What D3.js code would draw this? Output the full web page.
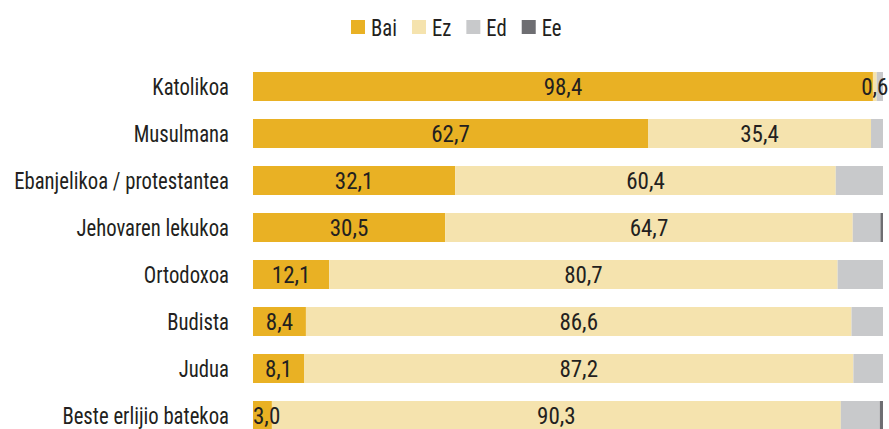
<!DOCTYPE html>
<html>
<head>
<meta charset="utf-8">
<script src="https://cdn.jsdelivr.net/npm/d3@7"></script>
<style>
  html, body { margin: 0; padding: 0; background: #fff; }
  svg { display: block; }
  text { font-family: "Liberation Sans Narrow", "Roboto Condensed", "Arial Narrow", sans-serif; fill: #231f20; }
</style>
</head>
<body>
<svg id="chart" width="889" height="429"></svg>
<script>
const categories = ["Katolikoa", "Musulmana", "Ebanjelikoa / protestantea", "Jehovaren lekukoa", "Ortodoxoa", "Budista", "Judua", "Beste erlijio batekoa"];
const seriesNames = ["Bai", "Ez", "Ed", "Ee"];
const bai = [98.4, 62.7, 32.1, 30.5, 12.1, 8.4, 8.1, 3.0];
const ez  = [0.6, 35.4, 60.4, 64.7, 80.7, 86.6, 87.2, 90.3];
const ed  = [1.0, 1.9, 7.5, 4.4, 7.2, 5.0, 4.7, 6.2];
const ee  = [0.0, 0.0, 0.0, 0.4, 0.0, 0.0, 0.0, 0.5];
const labelled = ["Bai", "Ez"];
const colors = ["#e9b124", "#f5e3ae", "#c8c9cb", "#6e6e72"];

const rows = categories.map((c, i) => ({ cat: c, Bai: bai[i], Ez: ez[i], Ed: ed[i], Ee: ee[i] }));
const stacked = d3.stack().keys(seriesNames)(rows);

const svg = d3.select("#chart");
const x = d3.scaleLinear().domain([0, 100]).range([253, 883]);
const y = d3.scaleBand().domain(categories).range([63, 439]).paddingInner(18 / 47).paddingOuter(9 / 47);
const color = d3.scaleOrdinal().domain(seriesNames).range(colors);
const fmt = v => d3.format(".1f")(v).replace(".", ",");
const squeeze = 0.9;

// bars
const layers = svg.append("g").selectAll("g").data(stacked).join("g").attr("fill", d => color(d.key));
layers.selectAll("rect").data(d => d.map(p => ({ key: d.key, p }))).join("rect")
  .attr("x", d => x(d.p[0]))
  .attr("y", d => y(d.p.data.cat))
  .attr("width", d => Math.max(0, x(d.p[1]) - x(d.p[0])))
  .attr("height", y.bandwidth());

// value labels
const valG = svg.append("g");
stacked.filter(s => labelled.includes(s.key)).forEach(s => {
  s.forEach(p => {
    const t = valG.append("text")
      .attr("font-size", 23)
      .attr("text-anchor", "middle")
      .attr("y", y(p.data.cat) + y.bandwidth() / 2)
      .attr("dy", "0.37em")
      .text(fmt(p[1] - p[0]));
    const w = t.node().getComputedTextLength();
    let cx = (x(p[0]) + x(p[1])) / 2;
    if (p[0] === 0) cx = Math.max(cx, x(p[0]) + w / 2);
    t.attr("x", cx);
  });
});

// category labels
const yAxis = d3.axisLeft(y).tickSize(0).tickPadding(0);
const ax = svg.append("g").attr("transform", `translate(229,0) scale(${squeeze},1)`).call(yAxis);
ax.select(".domain").remove();
ax.selectAll("text").attr("font-size", 23).attr("fill", "#231f20").attr("dy", "0.37em")
  .style("font-family", "\"Liberation Sans Narrow\", \"Roboto Condensed\", \"Arial Narrow\", sans-serif");

// legend
const leg = svg.append("g");
let lx = 351;
seriesNames.forEach(k => {
  leg.append("rect").attr("x", lx).attr("y", 20).attr("width", 14).attr("height", 14).attr("fill", color(k));
  const t = leg.append("text")
    .attr("transform", `translate(${lx + 20},27) scale(${squeeze},1)`)
    .attr("dy", "0.37em").attr("font-size", 23).text(k);
  lx += 20 + t.node().getComputedTextLength() * squeeze + 15;
});
</script>
</body>
</html>
